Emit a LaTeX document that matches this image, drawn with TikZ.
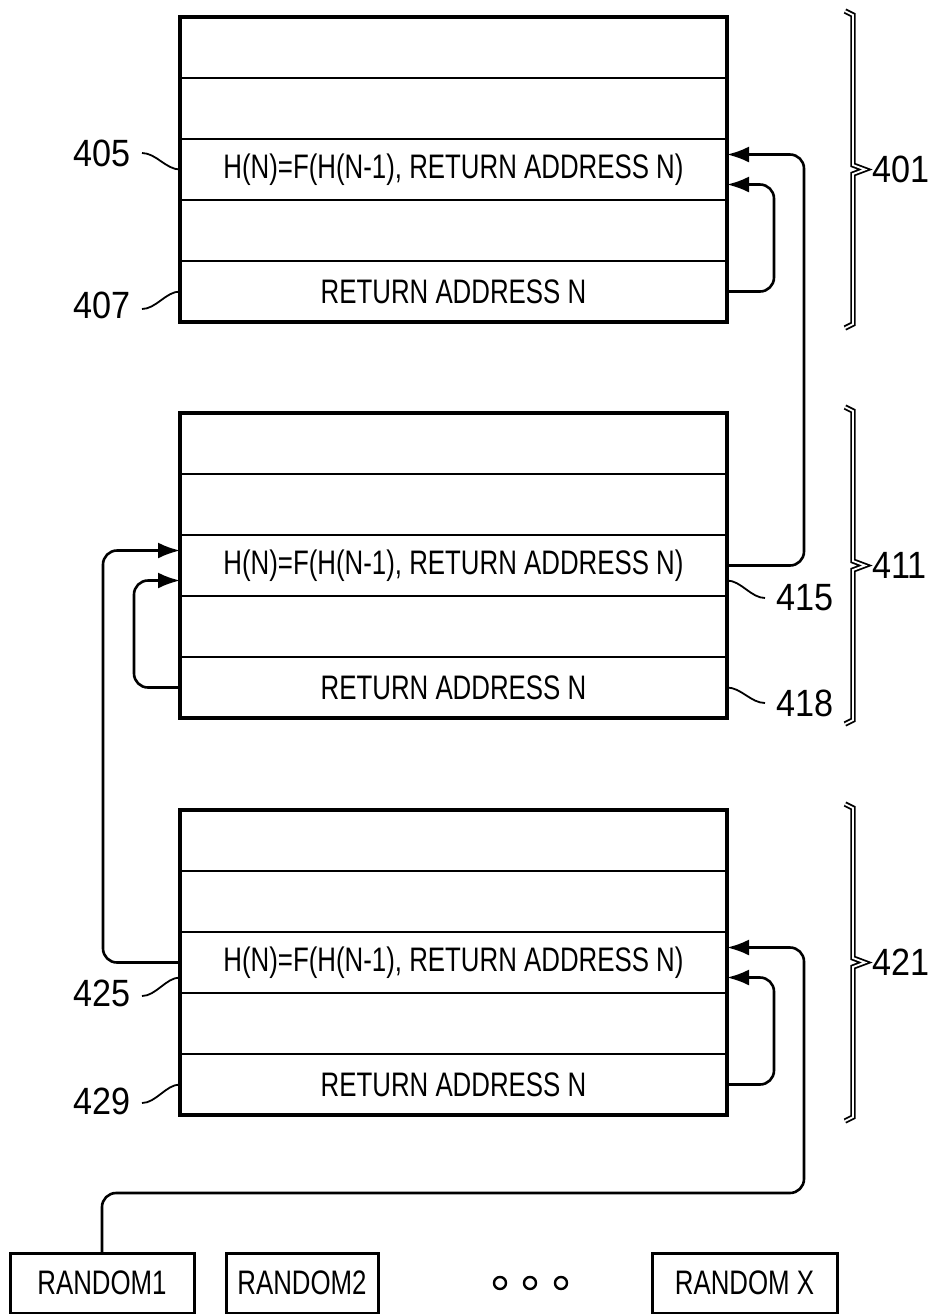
\documentclass[tikz,border=0pt]{standalone}
\usepackage{fontspec}
\setmainfont{Liberation Sans}[FakeStretch=0.76]
\newfontfamily\numfont{Liberation Sans}[FakeStretch=0.9]
\usetikzlibrary{arrows.meta}
\tikzset{
	row/.style={draw, line width=1.1pt, minimum width=273.5pt, minimum height=30.5pt, inner sep=0pt, outer sep=0pt, font=\fontsize{17}{20}\selectfont},
	frame/.style={line width=1.8pt},
	rbox/.style={draw, line width=1.5pt, minimum height=30pt, inner sep=0pt, outer sep=0pt, font=\fontsize{17}{20}\selectfont},
	num/.style={inner sep=0pt, font=\numfont\fontsize{19}{22}\selectfont},
	link/.style={line width=1.3pt, rounded corners=7pt, -{Latex[length=11pt,width=8pt]}},
	lead/.style={line width=0.9pt},
	brace/.style={line width=0.9pt, double, double distance=0.9pt},
	dot/.style={circle, draw, line width=1.2pt, minimum size=6pt, inner sep=0pt}
}
\begin{document}
\begin{tikzpicture}[x=0.5pt, y=-0.5pt]
	\useasboundingbox (0,0) rectangle (935,1314);
	\foreach \s/\top/\grp in {1/17/401, 2/413/411, 3/810/421} {
		\foreach \r/\txt in {1/{}, 2/{}, 3/{H(N)=F(H(N-1), RETURN ADDRESS N)}, 4/{}, 5/{RETURN ADDRESS N}}
			\node[row] (s\s-\r) at (453.5,\top+61*\r-30.5) {\txt};
		\draw[frame] (s\s-1.north west) rectangle (s\s-5.south east);
		\draw[brace] (845,\top-6) -- (853,\top-2) -- (853,\top+148) -- (865,\top+152.5) -- (853,\top+157) -- (853,\top+307) -- (845,\top+311);
		\node[num, anchor=west] (g\grp) at (872,\top+152.5) {\grp};
	}
	\node[num, anchor=east] (n405) at (131,153) {405};
	\node[num, anchor=east] (n407) at (131,305) {407};
	\node[num, anchor=west] (n415) at (776,598) {415};
	\node[num, anchor=west] (n418) at (776,703) {418};
	\node[num, anchor=east] (n425) at (131,993) {425};
	\node[num, anchor=east] (n429) at (131,1101) {429};
	\draw[lead] ([xshift=5.5pt]n405.east) .. controls +(14,0) and +(-14,0) .. (s1-3.west);
	\draw[lead] ([xshift=5.5pt,yshift=-2pt]n407.east) .. controls +(14,0) and +(-14,0) .. (s1-5.west);
	\draw[lead] ([yshift=-7.5pt]s2-3.east) .. controls +(14,0) and +(-14,0) .. ([xshift=-5.5pt]n415.west);
	\draw[lead] (s2-5.east) .. controls +(14,0) and +(-14,0) .. ([xshift=-5.5pt]n418.west);
	\draw[lead] ([xshift=5.5pt,yshift=-1.5pt]n425.east) .. controls +(14,0) and +(-14,0) .. ([yshift=-7.5pt]s3-3.west);
	\draw[lead] ([xshift=5.5pt,yshift=-1pt]n429.east) .. controls +(14,0) and +(-14,0) .. (s3-5.west);
	\node[rbox, minimum width=92pt] (rnd1) at (102,1283) {RANDOM1};
	\node[rbox, minimum width=76pt] (rnd2) at (302,1283) {RANDOM2};
	\node[rbox, minimum width=92.5pt] (rndx) at (744.5,1283) {RANDOM X};
	\foreach \i/\x in {1/500, 2/530, 3/561}
		\node[dot] (dot\i) at (\x,1283) {};
	\coordinate (bend) at (804,1193);
	\draw[link] (s2-3.east) -- ++(77,0) |- ([yshift=7.5pt]s1-3.east);
	\draw[link] (s1-5.east) -- ++(47,0) |- ([yshift=-7.5pt]s1-3.east);
	\draw[link] (s3-3.west) -- ++(-77,0) |- ([yshift=7.5pt]s2-3.west);
	\draw[link] (s2-5.west) -- ++(-46,0) |- ([yshift=-7.5pt]s2-3.west);
	\draw[link] (s3-5.east) -- ++(47,0) |- ([yshift=-7.5pt]s3-3.east);
	\draw[link] (rnd1.north) |- (bend) |- ([yshift=7.5pt]s3-3.east);
\end{tikzpicture}
\end{document}
